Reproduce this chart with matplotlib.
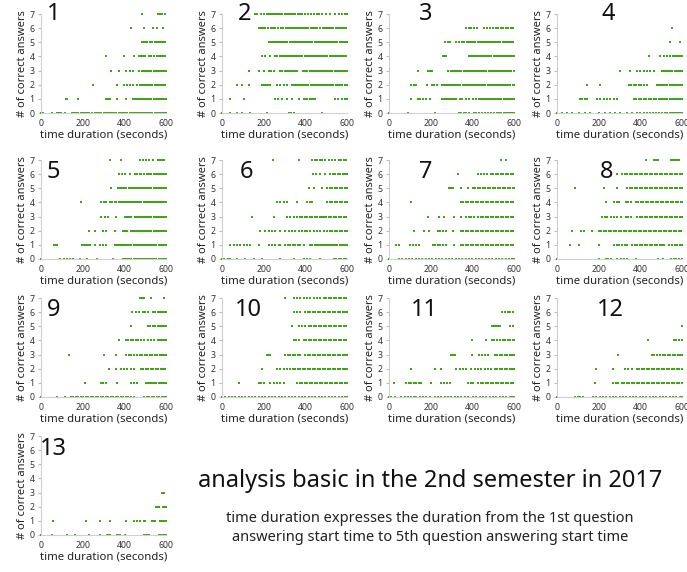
import matplotlib
matplotlib.use("Agg")
import matplotlib.pyplot as plt

# x positions (seconds) of the dots, one list per number of correct answers 0..7
panel1 = [
    [0, 10, 55, 75, 85, 95, 115, 148, 158, 168, 178, 190, 200, 212, 222, 232, 245, 258, 268, 278, 290, 300, 310, 322, 332, 342, 352, 362, 375, 385, 395, 405, 415, 425, 435, 445, 455, 465, 475, 485, 495, 505, 515, 525, 535, 545, 555, 565, 575, 585, 595, 600],
    [118, 122, 127, 176, 310, 320, 330, 364, 409, 440, 450, 460, 470, 480, 490, 500, 510, 520, 530, 540, 550, 560, 570, 580, 590, 598],
    [249, 364, 400, 413, 425, 440, 460, 474, 485, 493, 505, 515, 525, 535, 545, 555, 565, 575, 585, 595],
    [335, 372, 410, 425, 440, 470, 485, 493, 500, 510, 520, 530, 540, 550, 560, 570, 580, 590, 598],
    [313, 396, 444, 472, 478, 489, 500, 517, 530, 541, 555, 565, 575, 585, 595],
    [484, 490, 497, 508, 523, 533, 545, 557, 565, 575, 585, 595],
    [432, 492, 536, 555, 587],
    [484, 563, 571, 579, 595],
]
panel2 = [
    [0, 40, 72, 96, 136, 216, 320, 330, 344, 480],
    [40, 104, 256, 270, 290, 310, 336, 368, 392, 400, 410, 420, 430, 440, 448, 544, 555, 575, 590, 600],
    [72, 96, 128, 192, 200, 210, 222, 232, 264, 280, 296, 312, 336, 345, 355, 365, 375, 385, 395, 405, 415, 425, 435, 445, 455, 465, 475, 485, 495, 505, 515, 525, 535, 545, 555, 565, 575, 590, 600],
    [131, 176, 200, 227, 237, 248, 280, 290, 300, 310, 320, 330, 340, 350, 360, 388, 398, 410, 420, 430, 440, 450, 460, 470, 480, 490, 500, 510, 520, 530, 540, 550, 560, 570, 580, 590, 600],
    [192, 208, 232, 256, 266, 276, 286, 296, 306, 316, 326, 336, 346, 356, 366, 376, 386, 396, 406, 416, 426, 436, 446, 456, 466, 476, 486, 496, 506, 516, 526, 536, 546, 556, 566, 576, 586, 596],
    [224, 234, 244, 254, 264, 274, 284, 294, 304, 314, 324, 334, 344, 354, 364, 374, 384, 394, 404, 414, 424, 434, 444, 454, 464, 474, 484, 494, 504, 514, 524, 534, 544, 554, 564, 574, 584, 594, 600],
    [176, 185, 195, 205, 220, 235, 245, 255, 270, 285, 295, 305, 315, 325, 335, 345, 355, 365, 375, 385, 395, 405, 415, 425, 435, 445, 455, 470, 485, 495, 505, 515, 525, 535, 545, 555, 565, 575, 585, 595],
    [160, 170, 185, 200, 215, 225, 235, 245, 255, 262, 270, 280, 290, 300, 310, 320, 330, 340, 350, 365, 375, 385, 400, 415, 425, 440, 455, 465, 480, 500, 520, 540, 560, 575, 590, 600],
]
panel3 = [
    [0, 92, 221, 334, 346, 358, 370, 382, 406, 420, 432, 445, 460, 475, 490, 505, 520, 530, 540, 550, 560, 570, 580, 590, 600],
    [108, 140, 150, 165, 180, 197, 253, 263, 273, 283, 293, 303, 313, 323, 340, 350, 370, 385, 405, 420, 430, 440, 450, 460, 470, 480, 490, 500, 510, 520, 530, 540, 550, 560, 570, 580, 590, 600],
    [108, 118, 132, 181, 205, 217, 229, 253, 263, 273, 283, 293, 303, 313, 323, 333, 343, 353, 363, 373, 383, 393, 403, 413, 423, 433, 443, 453, 463, 473, 483, 493, 503, 513, 523, 533, 543, 553, 563, 573, 583, 593, 600],
    [140, 189, 197, 205, 285, 298, 308, 318, 328, 338, 348, 358, 368, 378, 388, 398, 408, 418, 428, 438, 448, 458, 468, 478, 488, 498, 508, 518, 528, 538, 548, 558, 568, 578, 588, 598],
    [261, 268, 274, 382, 392, 402, 412, 422, 432, 442, 452, 462, 472, 482, 492, 502, 512, 522, 532, 542, 552, 562, 572, 582, 592, 600],
    [269, 282, 294, 320, 335, 350, 362, 375, 385, 395, 405, 415, 425, 435, 445, 455, 465, 475, 485, 495, 505, 515, 525, 535, 545, 555, 565, 575, 585, 595],
    [371, 385, 395, 410, 423, 455, 470, 485, 500, 512, 524, 536, 548, 560, 572, 584, 596],
    [],
]
panel4 = [
    [0, 24, 48, 72, 104, 136, 160, 200, 232, 256, 280, 304, 336, 360, 384, 400, 416, 430, 445, 460, 475, 490, 505, 520, 530, 540, 550, 560, 570, 580, 590, 600],
    [112, 122, 132, 144, 192, 208, 224, 240, 256, 272, 288, 368, 380, 392, 404, 416, 428, 440, 452, 464, 476, 488, 500, 510, 520, 530, 540, 550, 560, 570, 580, 590, 600],
    [144, 208, 344, 356, 368, 380, 392, 404, 416, 432, 480, 490, 500, 510, 520, 530, 540, 550, 560, 570, 580, 590, 600],
    [304, 352, 384, 400, 416, 432, 448, 464, 504, 514, 524, 534, 544, 554, 564, 574, 584, 594, 600],
    [440, 496, 512, 528, 544, 555, 565, 575, 585, 595, 600],
    [544, 592],
    [552],
    [],
]
panel5 = [
    [0, 92, 108, 124, 140, 155, 187, 219, 267, 346, 394, 404, 414, 424, 434, 444, 454, 464, 474, 484, 494, 504, 514, 524, 534, 544, 554, 564, 574, 584, 594, 600],
    [60, 68, 76, 195, 205, 215, 225, 235, 259, 282, 298, 314, 354, 364, 374, 384, 394, 404, 414, 424, 434, 444, 454, 464, 474, 484, 494, 504, 514, 524, 534, 544, 554, 564, 574, 584, 594, 600],
    [232, 259, 298, 314, 354, 394, 404, 414, 430, 440, 450, 460, 470, 480, 490, 500, 510, 520, 530, 540, 550, 560, 570, 580, 590, 600],
    [290, 306, 322, 362, 402, 412, 422, 432, 450, 460, 470, 480, 490, 500, 510, 520, 530, 540, 550, 560, 570, 580, 590, 600],
    [190, 290, 302, 314, 330, 342, 354, 362, 372, 382, 392, 402, 412, 422, 432, 442, 452, 462, 472, 482, 492, 502, 512, 522, 532, 542, 552, 562, 572, 582, 592, 600],
    [338, 370, 380, 390, 400, 410, 420, 430, 440, 450, 460, 470, 480, 490, 500, 510, 520, 530, 540, 550, 560, 570, 580, 590, 600],
    [375, 388, 402, 425, 449, 461, 473, 481, 495, 510, 520, 530, 540, 550, 560, 570, 580, 590, 600],
    [330, 386, 473, 488, 504, 520, 536, 560, 570, 580, 592],
]
panel6 = [
    [0, 12, 28, 40, 72, 112, 152, 192, 280, 344, 392, 408, 424, 472, 536, 548, 560, 572, 584, 596],
    [40, 56, 72, 88, 104, 120, 136, 176, 224, 240, 256, 272, 280, 304, 316, 328, 340, 352, 364, 376, 392, 424, 434, 444, 454, 464, 474, 484, 494, 504, 514, 524, 534, 544, 554, 564, 574, 584, 594, 600],
    [184, 208, 224, 240, 256, 280, 304, 320, 336, 352, 368, 384, 396, 408, 424, 440, 456, 472, 488, 504, 516, 528, 540, 552, 564, 576, 588, 600],
    [144, 248, 312, 328, 344, 360, 372, 384, 396, 408, 420, 432, 444, 456, 470, 480, 490, 500, 512, 524, 536, 548, 560, 572, 584, 596],
    [264, 280, 296, 312, 360, 408, 420, 432, 504, 516, 528, 540, 552, 564, 576, 588, 600],
    [416, 440, 480, 504, 516, 528, 540, 552, 564, 576, 588, 600],
    [437, 453, 469, 496, 520, 532, 544, 556, 568, 580, 592, 600],
    [245, 368, 432, 444, 456, 468, 480, 496, 512, 528, 544, 560, 572, 584, 596],
]
panel7 = [
    [0, 48, 64, 80, 96, 112, 128, 144, 160, 176, 192, 208, 224, 240, 256, 272, 288, 304, 320, 336, 352, 368, 384, 400, 416, 432, 448, 464, 480, 496, 512, 528, 544, 560, 576, 592, 600],
    [35, 48, 99, 115, 130, 146, 210, 222, 234, 246, 258, 273, 313, 345, 357, 369, 381, 393, 405, 417, 429, 441, 453, 465, 477, 489, 501, 513, 525, 537, 549, 561, 573, 585, 597],
    [122, 170, 194, 234, 247, 260, 273, 305, 345, 357, 369, 381, 393, 405, 417, 429, 441, 453, 465, 477, 489, 501, 513, 525, 537, 549, 561, 573, 585, 597],
    [186, 242, 266, 313, 345, 369, 385, 395, 410, 425, 440, 452, 464, 476, 488, 500, 512, 524, 536, 548, 560, 572, 584, 596],
    [107, 345, 357, 369, 381, 393, 405, 417, 429, 441, 453, 465, 477, 489, 501, 513, 525, 537, 549, 561, 573, 585, 597],
    [289, 297, 305, 345, 377, 401, 413, 425, 437, 449, 461, 473, 485, 497, 509, 521, 533, 545, 557, 569, 581, 593, 600],
    [329, 425, 440, 455, 472, 488, 500, 512, 524, 536, 548, 560, 572, 584, 596],
    [536, 560],
]
panel8 = [
    [0, 201, 233, 245, 257, 290, 306, 322, 338, 378, 483, 507, 547, 560, 573, 586, 600],
    [64, 105, 201, 274, 286, 298, 314, 326, 338, 362, 374, 386, 398, 410, 422, 434, 446, 458, 470, 482, 494, 506, 515, 539, 552, 565, 578, 591, 600],
    [72, 113, 129, 169, 201, 213, 225, 237, 249, 261, 273, 285, 297, 309, 321, 333, 345, 357, 369, 381, 393, 405, 417, 429, 441, 453, 465, 477, 489, 501, 513, 525, 537, 549, 561, 573, 585, 597],
    [217, 229, 241, 257, 273, 290, 306, 330, 342, 354, 386, 398, 410, 422, 434, 446, 458, 470, 482, 494, 506, 518, 530, 542, 554, 566, 578, 590, 600],
    [233, 274, 286, 298, 330, 342, 354, 378, 390, 402, 414, 426, 438, 450, 462, 474, 486, 498, 510, 522, 534, 546, 558, 570, 582, 594, 600],
    [88, 225, 290, 338, 350, 362, 374, 386, 398, 410, 422, 434, 446, 458, 470, 482, 494, 506, 518, 530, 542, 554, 566, 578, 590, 600],
    [290, 314, 326, 338, 350, 362, 374, 386, 398, 410, 422, 434, 446, 458, 470, 482, 494, 506, 518, 530, 542, 554, 566, 578, 590, 600],
    [426, 467, 475, 483, 547, 557, 567, 577, 587],
]
panel9 = [
    [0, 77, 117, 142, 154, 166, 178, 190, 202, 214, 226, 238, 250, 262, 274, 286, 298, 310, 322, 334, 346, 358, 370, 382, 394, 406, 418, 430, 447, 496, 508, 520, 532, 544, 556, 568, 580, 592, 600],
    [211, 286, 298, 310, 367, 431, 447, 463, 504, 514, 524, 534, 544, 554, 564, 574, 584, 594, 600],
    [327, 359, 383, 399, 415, 431, 447, 479, 491, 503, 515, 527, 539, 551, 563, 575, 587, 597],
    [134, 302, 359, 407, 420, 433, 447, 463, 475, 487, 499, 511, 523, 535, 547, 559, 571, 583, 592, 600],
    [375, 407, 419, 431, 443, 455, 467, 479, 496, 512, 528, 544, 560, 570, 580, 590, 600],
    [431, 512, 524, 536, 548, 560, 570, 580, 590, 600],
    [439, 455, 471, 488, 500, 512, 536, 548, 560, 570, 580, 590, 600],
    [476, 486, 496, 528, 592],
]
panel10 = [
    [0, 16, 32, 48, 64, 80, 96, 112, 128, 144, 160, 176, 192, 208, 224, 240, 256, 272, 288, 304, 320, 336, 352, 368, 384, 400, 416, 432, 448, 464, 480, 496, 512, 528, 544, 560, 576, 592, 600],
    [80, 176, 188, 200, 232, 248, 264, 280, 296, 360, 372, 384, 396, 408, 420, 432, 444, 456, 468, 480, 492, 504, 516, 528, 540, 552, 564, 576, 588, 600],
    [192, 264, 280, 296, 312, 328, 340, 352, 364, 376, 388, 400, 412, 424, 436, 448, 460, 472, 484, 496, 508, 520, 532, 544, 556, 568, 580, 592, 600],
    [216, 224, 232, 304, 316, 328, 340, 352, 364, 376, 400, 412, 424, 436, 448, 460, 472, 484, 496, 508, 520, 532, 544, 556, 568, 580, 592, 600],
    [344, 356, 368, 392, 404, 416, 428, 440, 452, 464, 476, 488, 500, 512, 524, 536, 548, 560, 572, 584, 596],
    [336, 368, 384, 400, 416, 428, 440, 452, 464, 476, 488, 500, 512, 524, 536, 548, 560, 572, 584, 596],
    [344, 360, 376, 400, 412, 424, 436, 448, 460, 472, 484, 496, 508, 520, 532, 544, 556, 568, 580, 592, 600],
    [304, 344, 360, 376, 392, 408, 424, 440, 456, 472, 488, 500, 512, 524, 536, 548, 560, 572, 584, 596],
]
panel11 = [
    [0, 12, 30, 60, 75, 90, 104, 118, 132, 148, 164, 180, 196, 220, 236, 252, 268, 284, 300, 316, 332, 348, 364, 380, 404, 420, 436, 452, 468, 484, 500, 516, 532, 548, 564, 580, 592, 600],
    [22, 83, 96, 108, 120, 132, 144, 156, 204, 252, 265, 278, 292, 380, 392, 404, 429, 441, 453, 465, 477, 489, 501, 513, 525, 537, 549, 561, 573, 585, 597],
    [107, 220, 252, 324, 340, 356, 372, 396, 412, 428, 444, 460, 476, 492, 508, 520, 532, 544, 556, 568, 580, 592, 600],
    [300, 308, 316, 398, 430, 446, 460, 476, 508, 520, 532, 544, 556, 568, 580, 592, 600],
    [398, 465, 493, 505, 517, 533, 545, 557, 569, 581, 593, 600],
    [493, 503, 513, 523, 533, 581, 597],
    [541, 555, 569, 583, 597],
    [],
]
panel12 = [
    [0, 84, 100, 112, 124, 173, 189, 205, 221, 237, 253, 269, 285, 301, 317, 333, 349, 365, 381, 397, 413, 429, 445, 461, 477, 493, 509, 525, 541, 557, 573, 589, 600],
    [181, 269, 281, 294, 310, 322, 334, 346, 358, 370, 382, 394, 406, 418, 430, 442, 454, 466, 478, 490, 502, 514, 526, 538, 550, 562, 574, 586, 598],
    [189, 269, 326, 342, 358, 382, 394, 406, 418, 430, 442, 454, 466, 478, 490, 502, 514, 526, 538, 550, 562, 574, 586, 598],
    [294, 455, 467, 479, 495, 507, 519, 531, 543, 555, 567, 579, 591, 600],
    [439, 560, 573, 586, 600],
    [600],
    [],
    [],
]
panel13 = [
    [0, 53, 125, 164, 228, 284, 316, 324, 332, 364, 372, 380, 404, 492, 500, 508, 516, 564, 572, 580, 588, 596, 600],
    [57, 217, 284, 332, 409, 444, 460, 476, 492, 500, 532, 540, 548, 572, 580, 588, 596, 600],
    [553, 560, 564, 585, 592, 598],
    [580, 588],
    [],
    [],
    [],
    [],
]

panels = [panel1, panel2, panel3, panel4, panel5, panel6, panel7,
          panel8, panel9, panel10, panel11, panel12, panel13]
panel_names = [str(i) for i in range(1, 14)]

title = "analysis basic in the 2nd semester in 2017"
note = ("time duration expresses the duration from the 1st question\n"
        "answering start time to 5th question answering start time")

# layout in pixels
W, H = 687, 572
col_x = [41, 222, 389, 557]
row_top = [14, 160, 298, 436]
ax_w, ax_h = 125, 99
num_x = [0.1, 0.18, 0.29, 0.41, 0.1, 0.2, 0.29, 0.4, 0.1, 0.21, 0.28, 0.43, 0.1]
num_y = [1.0, 1.0, 1.0, 1.0, 0.88, 0.88, 0.88, 0.88, 0.88, 0.88, 0.88, 0.88, 0.87]

green = '#3da614'
plt.rcParams['font.family'] = ['Noto Sans', 'DejaVu Sans']

fig = plt.figure(figsize=(W / 100, H / 100), dpi=100)

for i, pan in enumerate(panels):
    r, c = divmod(i, 4)
    left = col_x[c] / W
    bottom = (H - row_top[r] - ax_h) / H
    ax = fig.add_axes([left, bottom, ax_w / W, ax_h / H])
    for level, xs in enumerate(pan):
        ax.plot(xs, [level] * len(xs), 's', color=green, ms=1.6, mew=0,
                clip_on=False)
    ax.set_xlim(0, 600)
    ax.set_ylim(0, 7)
    ax.set_xticks([0, 200, 400, 600])
    ax.set_yticks(range(8))
    for s in ['top', 'right']:
        ax.spines[s].set_visible(False)
    for s in ['left', 'bottom']:
        ax.spines[s].set_color('#d0d0d0')
        ax.spines[s].set_linewidth(0.8)
    ax.tick_params(axis='x', length=0, pad=4, labelsize=6.3, colors='#333333')
    ax.tick_params(axis='y', length=2.5, width=0.8, color='#bbbbbb', pad=2,
                   labelsize=6.3, labelcolor='#333333')
    for lab in ax.get_xticklabels() + ax.get_yticklabels():
        lab.set_fontweight('bold')
    ax.set_xlabel('time duration (seconds)', fontsize=8.2, color='#222222',
                  labelpad=1.5)
    ax.set_ylabel('# of correct answers', fontsize=8, color='#222222',
                  labelpad=1)
    ax.text(num_x[i], num_y[i], panel_names[i], transform=ax.transAxes,
            fontsize=17, ha='center', va='center', color='#111111')

fig.text(430 / W, 1 - 481 / H, title, fontsize=17, ha='center',
         va='center', color='#111111')
fig.text(430 / W, 1 - 528 / H, note, fontsize=10.5, ha='center',
         va='center', color='#222222', linespacing=1.45)

fig.savefig('out.png', dpi=100)
